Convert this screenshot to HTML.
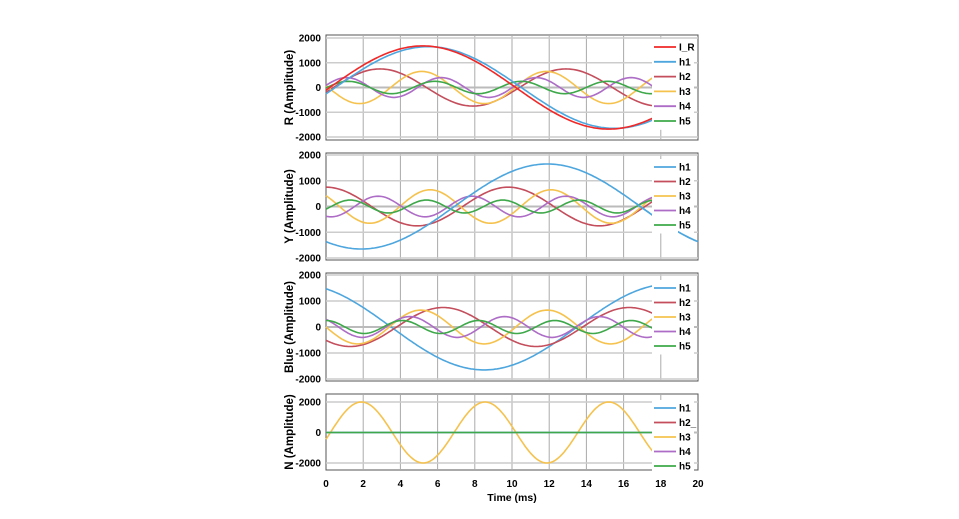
<!DOCTYPE html>
<html><head><style>body{margin:0;background:#fff}svg text{font-family:"Liberation Sans",Arial,sans-serif;font-weight:bold}</style></head>
<body>
<svg id="s" width="959" height="514" xmlns="http://www.w3.org/2000/svg"></svg>
<script>
const S=document.getElementById('s');let h='';
const X=t=>326+t*18.6;
const C={I:'#f02828',h1:'#4ea6de',h2:'#c44e5c',h3:'#f5c24e',h4:'#ad6cc6',h5:'#3ea84a'};
const cos=Math.cos,P=Math.PI;
const w=(A,T,t0)=>t=>A*cos(2*P*(t-t0)/T);
const panels=[
{ft:35,fb:140,yp:38,ym:137,lab:'R (Amplitude)',leg:['I_R','h1','h2','h3','h4','h5'],ly:47,ls:14.8,
 s:[['h2',w(750,10,2.9)],['h3',w(-650,6.7,1.8)],['h4',w(400,5.1,1.1)],['h5',w(250,4.65,1.2)],['h1',w(1650,20,5.5)],['I',w(1680,20,5.2)]]},
{ft:153,fb:260,yp:155,ym:258,lab:'Y (Amplitude)',leg:['h1','h2','h3','h4','h5'],ly:167,ls:14.5,
 s:[['h2',w(750,9.8,0)],['h3',w(650,6.5,5.6)],['h4',w(400,5.05,2.8)],['h5',w(250,4.1,1.3)],['h1',w(-1650,20,1.9),20]]},
{ft:273,fb:381,yp:275,ym:379,lab:'Blue (Amplitude)',leg:['h1','h2','h3','h4','h5'],ly:288,ls:14.5,
 s:[['h1',w(1650,20,18.5)],['h2',w(-750,10,1.3)],['h3',w(650,6.8,5.1)],['h4',w(400,5.1,4.5)],['h5',w(250,4.1,0)]]},
{ft:394,fb:470,yp:402,ym:463,lab:'N (Amplitude)',leg:['h1','h2_','h3','h4','h5'],ly:408,ls:14.5,
 s:[['h3',w(2000,6.65,1.9)],['h1',t=>0],['h5',t=>0]]}
];
panels.forEach(p=>{
 const Y=v=>p.yp+(2000-v)*(p.ym-p.yp)/4000;
 h+=`<rect x="326" y="${p.ft}" width="372" height="${p.fb-p.ft}" fill="#fff" stroke="#555" stroke-width="1"/>`;
 for(let t=2;t<20;t+=2)h+=`<line x1="${X(t)}" x2="${X(t)}" y1="${p.ft}" y2="${p.fb}" stroke="#aaa" stroke-width="1"/>`;
 const ticks=p.lab[0]=='N'?[2000,0,-2000]:[2000,1000,0,-1000,-2000];
 [1000,-1000,2000,-2000].forEach(v=>{if(p.lab[0]!='N'||Math.abs(v)==2000)h+=`<line x1="326" x2="698" y1="${Y(v)}" y2="${Y(v)}" stroke="#ccc" stroke-width="1.5"/>`});
 h+=`<line x1="326" x2="698" y1="${Y(0)}" y2="${Y(0)}" stroke="#bbb" stroke-width="2"/>`;
 ticks.forEach(v=>h+=`<text x="321" y="${Y(v)+3.5}" font-size="10" text-anchor="end">${v}</text>`);
 const cy=(p.ft+p.fb)/2;
 h+=`<text transform="translate(293,${cy}) rotate(-90)" font-size="11.5" text-anchor="middle">${p.lab}</text>`;
 p.s.forEach(([k,f,te])=>{te=te||17.6;let d='';for(let t=0;t<=te+1e-9;t+=0.1)d+=(d?'L':'M')+X(t).toFixed(1)+','+Y(f(t)).toFixed(1);
  h+=`<path d="${d}" fill="none" stroke="${C[k]}" stroke-width="1.6"/>`});
 const n=p.leg.length;
 h+=`<rect x="652" y="${p.ly-8}" width="42" height="${n*p.ls+2}" fill="#fff"/>`;
 if(p.lab[0]=='Y'){let d='';for(let t=16.6;t<=20;t+=0.1)d+=(d?'L':'M')+X(t).toFixed(1)+','+Y(p.s[4][1](t)).toFixed(1);
  h+=`<path d="${d}" fill="none" stroke="${C.h1}" stroke-width="1.6"/>`;
  h+=`<rect x="652" y="${p.ly-8}" width="26" height="${n*p.ls+2}" fill="#fff"/>`;
  h+=`<rect x="678" y="${p.ly-8}" width="16" height="${n*p.ls-12}" fill="#fff"/>`;}
 p.leg.forEach((k,i)=>{const y=p.ly+i*p.ls;const kk=k=='I_R'?'I':k.replace('_','');
  h+=`<line x1="654" x2="676" y1="${y}" y2="${y}" stroke="${C[kk]}" stroke-width="1.8"/><text x="679" y="${y+3.5}" font-size="10">${k}</text>`});
});
for(let t=0;t<=20;t+=2)h+=`<text x="${X(t)}" y="487" font-size="10" text-anchor="middle">${t}</text>`;
h+=`<text x="512" y="501" font-size="10.5" text-anchor="middle">Time (ms)</text>`;
S.innerHTML=h;
</script>
</body></html>
